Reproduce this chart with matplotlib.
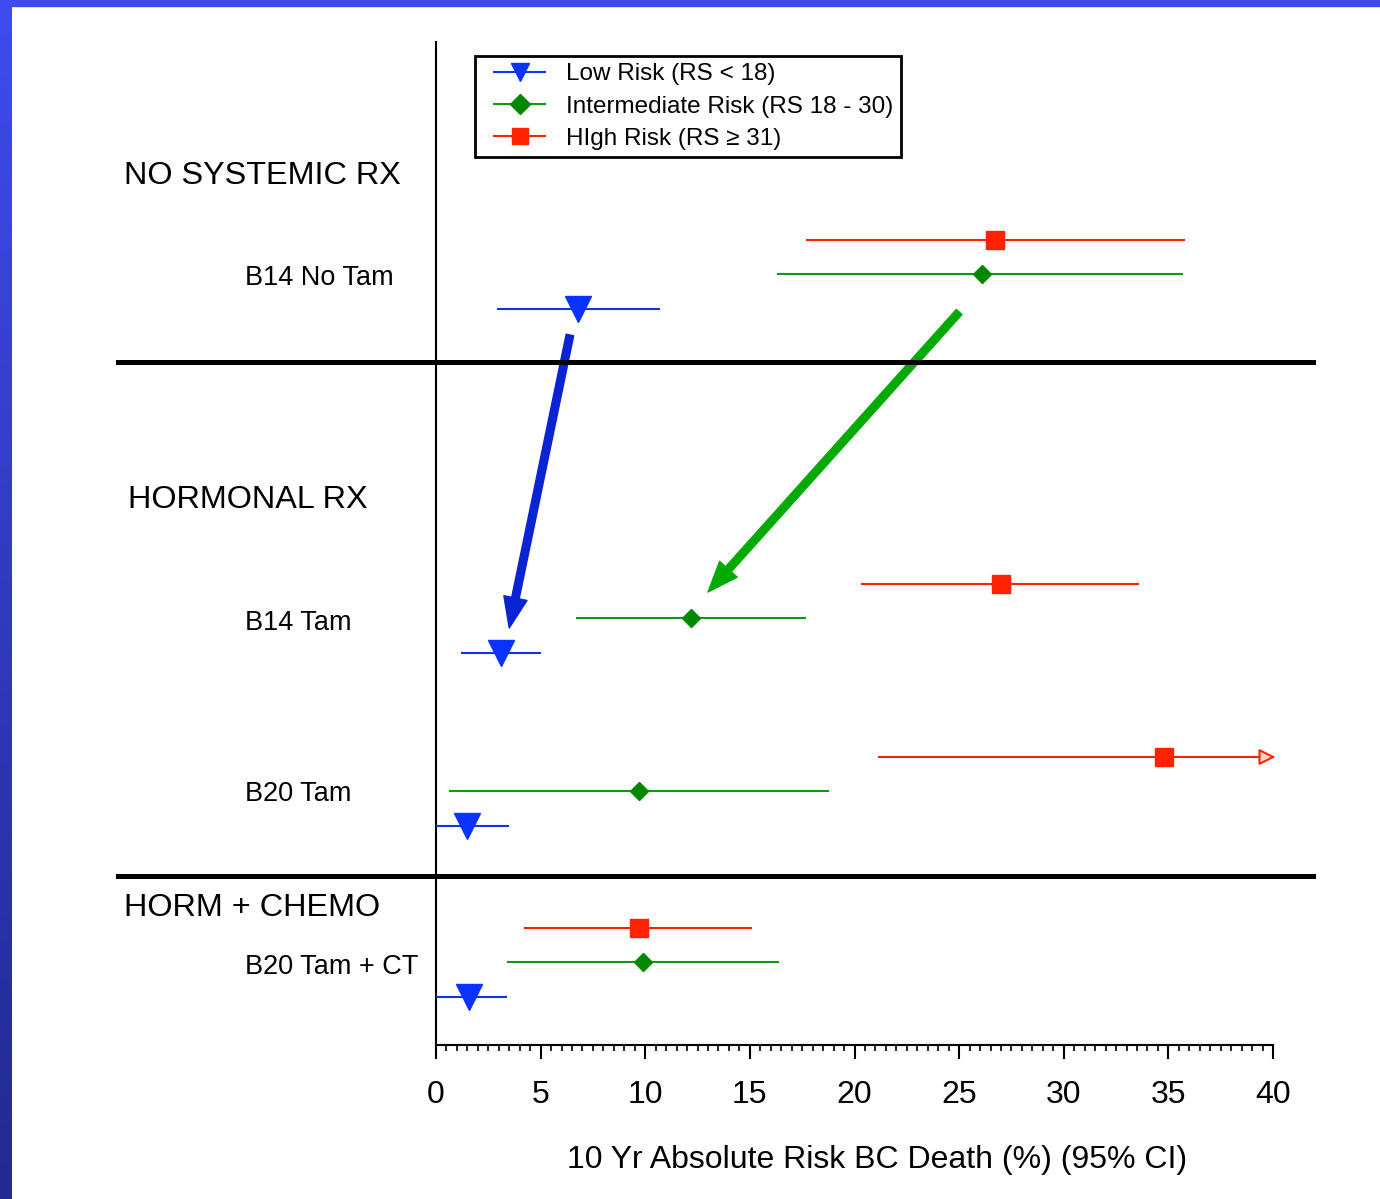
import numpy as np
import matplotlib
matplotlib.use('Agg')
import matplotlib.pyplot as plt
from matplotlib.lines import Line2D
from matplotlib.legend_handler import HandlerLine2D
from matplotlib.patches import Rectangle
from matplotlib.colors import LinearSegmentedColormap

# Data: 10 yr absolute risk of BC death (%) with 95% CI
trials = ['B14 No Tam', 'B14 Tam', 'B20 Tam', 'B20 Tam + CT']
groups = ['Low Risk (RS < 18)', 'Intermediate Risk (RS 18 - 30)', 'HIgh Risk (RS \u2265 31)']
sections = ['NO SYSTEMIC RX', 'HORMONAL RX', 'HORM + CHEMO']

low_est = [6.8, 3.1, 1.5, 1.6]
low_lo = [2.9, 1.2, 0.0, 0.0]
low_hi = [10.7, 5.0, 3.5, 3.4]

int_est = [26.1, 12.2, 9.7, 9.9]
int_lo = [16.3, 6.7, 0.6, 3.4]
int_hi = [35.7, 17.7, 18.8, 16.4]

high_est = [26.7, 27.0, 34.8, 9.7]
high_lo = [17.7, 20.3, 21.1, 4.2]
high_hi = [35.8, 33.6, 40.0, 15.1]   # B20 Tam upper limit runs off the scale

# layout (vertical positions, top = small)
row_y = [274, 618, 791, 962]
label_y = [278, 623, 794, 967]
section_y = [176, 500, 908]
section_x = [124, 128, 124]
divider_y = [362, 876]

plt.rcParams['font.family'] = ['Liberation Sans', 'DejaVu Sans']

W, H = 1380, 1199
fig = plt.figure(figsize=(W / 100, H / 100), dpi=100)

# blue slide frame
bg = fig.add_axes([0, 0, 12 / W, 1])
cm = LinearSegmentedColormap.from_list('frame', ['#3f4bee', '#212a8f'])
bg.imshow(np.linspace(0, 1, 256).reshape(-1, 1), cmap=cm, aspect='auto')
bg.axis('off')
fig.patches.append(Rectangle((0, 1 - 6 / H), 1, 6 / H, transform=fig.transFigure,
                             color='#3f4bee', zorder=0))

ax = fig.add_axes([436 / W, 1 - 1045 / H, 837 / W, 1003 / H])
ax.set_xlim(0, 40)
ax.set_ylim(1045, 42)

series = [
    (high_est, high_lo, high_hi, -34, '#ff2200', '#ff2200', 's', 13),
    (int_est, int_lo, int_hi, 0, '#119a11', '#008800', 'D', 8.7),
    (low_est, low_lo, low_hi, 35, '#0a33ff', '#0a33ff', 'v', 19),
]
for est, lo, hi, off, lc, mc, mk, ms in series:
    est = np.array(est)
    y = np.array(row_y) + off
    xerr = [est - np.array(lo), np.array(hi) - est]
    ax.errorbar(est, y, xerr=xerr, fmt=mk, color=lc, mfc=mc, mec=mc, ms=ms,
                elinewidth=1.5, capsize=0, clip_on=False, zorder=3)

# arrowhead for the truncated CI
ax.annotate('', xy=(40.25, row_y[2] - 34), xytext=(39.0, row_y[2] - 34),
            arrowprops=dict(arrowstyle='-|>,head_length=0.7,head_width=0.35',
                            ec='#ff2200', fc='#ffd8d0', lw=1.5, mutation_scale=14),
            annotation_clip=False)

# shift arrows B14 No Tam -> B14 Tam
ax.annotate('', xy=(low_est[1] + 0.4, row_y[1] + 10),
            xytext=(low_est[0] - 0.4, row_y[0] + 61),
            arrowprops=dict(width=5.5, headwidth=17, headlength=22,
                            color='#0b24d3', shrink=0))
ax.annotate('', xy=(int_est[1] + 0.8, row_y[1] - 26),
            xytext=(int_est[0] - 1.1, row_y[0] + 38),
            arrowprops=dict(width=5.5, headwidth=17, headlength=22,
                            color='#00aa00', shrink=0))

# section dividers
for yd in divider_y:
    ax.plot([-15.2, 41.9], [yd, yd], color='black', lw=3.6, clip_on=False, zorder=4)

# labels
tr = ax.get_yaxis_transform()
for name, yl in zip(trials, label_y):
    ax.text((245 - 436) / 837, yl, name, transform=tr, fontsize=19.5,
            va='center', ha='left', clip_on=False)
for name, ys, xs in zip(sections, section_y, section_x):
    ax.text((xs - 436) / 837, ys, name, transform=tr, fontsize=23.3,
            va='center', ha='left', clip_on=False)

# axes styling
for s in ['top', 'right']:
    ax.spines[s].set_visible(False)
ax.spines['left'].set_linewidth(1.5)
ax.spines['bottom'].set_linewidth(1.5)
ax.set_yticks([])
ax.set_xticks(np.arange(0, 41, 5))
ax.set_xticks(np.arange(0, 40.1, 0.5), minor=True)
ax.tick_params(axis='x', which='major', length=10, width=1.5, pad=15, labelsize=23)
ax.tick_params(axis='x', which='minor', length=4.5, width=1.2)
ax.set_xlabel('10 Yr Absolute Risk BC Death (%) (95% CI)', fontsize=23, va='center')
ax.xaxis.set_label_coords((877 - 436) / 837, (1045 - 1160) / 1003)

# legend
handles = [
    Line2D([], [], color='#0a33ff', marker='v', ms=13, lw=1.5),
    Line2D([], [], color='#119a11', marker='D', mfc='#008800', mec='#008800', ms=10, lw=1.5),
    Line2D([], [], color='#ff2200', marker='s', ms=11.5, lw=1.5),
]
leg = ax.legend(handles, groups, loc='upper left', bbox_to_anchor=(475 / W, 1 - 56 / H),
                bbox_transform=fig.transFigure, borderaxespad=0, fontsize=17.5,
                frameon=True, fancybox=False, edgecolor='black', framealpha=1,
                handlelength=2.6, handletextpad=0.86, borderpad=0.3, labelspacing=0.42,
                handler_map={Line2D: HandlerLine2D(xpad=0.5)})
leg.get_frame().set_linewidth(2)

fig.savefig('out.png', dpi=100)
